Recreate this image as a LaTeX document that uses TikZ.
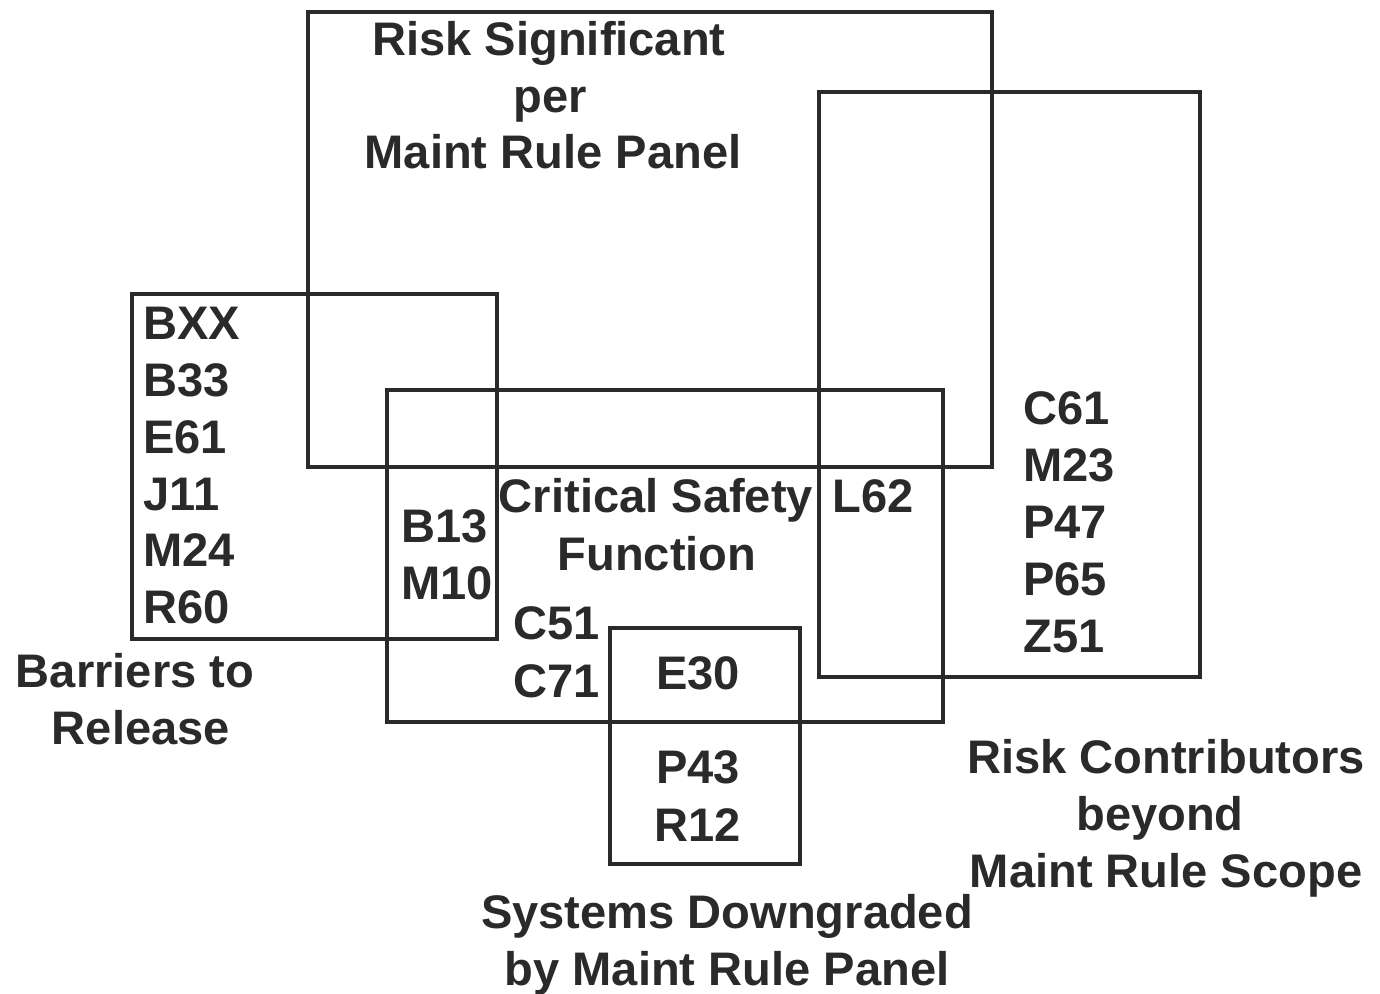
\documentclass[tikz,border=0pt]{standalone}
\usepackage{fontspec}
\setmainfont{Liberation Sans}
\definecolor{ink}{HTML}{2A2A2A}
\begin{document}
\begin{tikzpicture}[x=0.02cm,y=-0.02cm,
  box/.style={draw=ink,line width=1.8pt},
  lbl/.style={inner sep=0pt,text=ink,font=\fontsize{26.8}{32}\selectfont\bfseries},
  lw/.style={lbl,anchor=base west},
  lc/.style={lbl,anchor=base}]
\useasboundingbox[fill=white] (0,0) rectangle (1380,994);
% boxes
\draw[box] (308,12) rectangle (992,467);
\draw[box] (819,92) rectangle (1200,677);
\draw[box] (132,294) rectangle (497,639);
\draw[box] (387,390) rectangle (943,722);
\draw[box] (610,628) rectangle (800,864);
% Risk significant title
\node[lc] (rs1) at (549,55) {Risk Significant};
\node[lc] (rs2) at (550,112) {per};
\node[lc] (rs3) at (553,168) {Maint Rule Panel};
% Barriers list
\foreach \t/\y [count=\i] in {BXX/339,B33/396,E61/453,J11/510,M24/566,R60/623}
  \node[lw] (bl\i) at (143,\y) {\t};
\node[lc] (br1) at (135,687) {Barriers to};
\node[lc] (br2) at (141,744) {Release};
% B13 M10
\node[lw] (b13) at (401,542) {B13};
\node[lw] (m10) at (401,599) {M10};
% Critical safety
\node[lc] (cs1) at (656,512) {Critical Safety};
\node[lc] (cs2) at (657,570) {Function};
\node[lw] (l62) at (832,512) {L62};
\node[lw] (c51) at (513,639) {C51};
\node[lw] (c71) at (513,697) {C71};
% Downgraded
\node[lc] (e30) at (698,689) {E30};
\node[lc] (p43) at (698,783) {P43};
\node[lc] (r12) at (698,841) {R12};
\node[lc] (sd1) at (727,928) {Systems Downgraded};
\node[lc] (sd2) at (727,985) {by Maint Rule Panel};
% Risk contributors list
\foreach \t/\y [count=\i] in {C61/424,M23/481,P47/538,P65/595,Z51/652}
  \node[lw] (rc\i) at (1023,\y) {\t};
\node[lc] (rt1) at (1166,773) {Risk Contributors};
\node[lc] (rt2) at (1160,830) {beyond};
\node[lc] (rt3) at (1166,887) {Maint Rule Scope};
\end{tikzpicture}
\end{document}
